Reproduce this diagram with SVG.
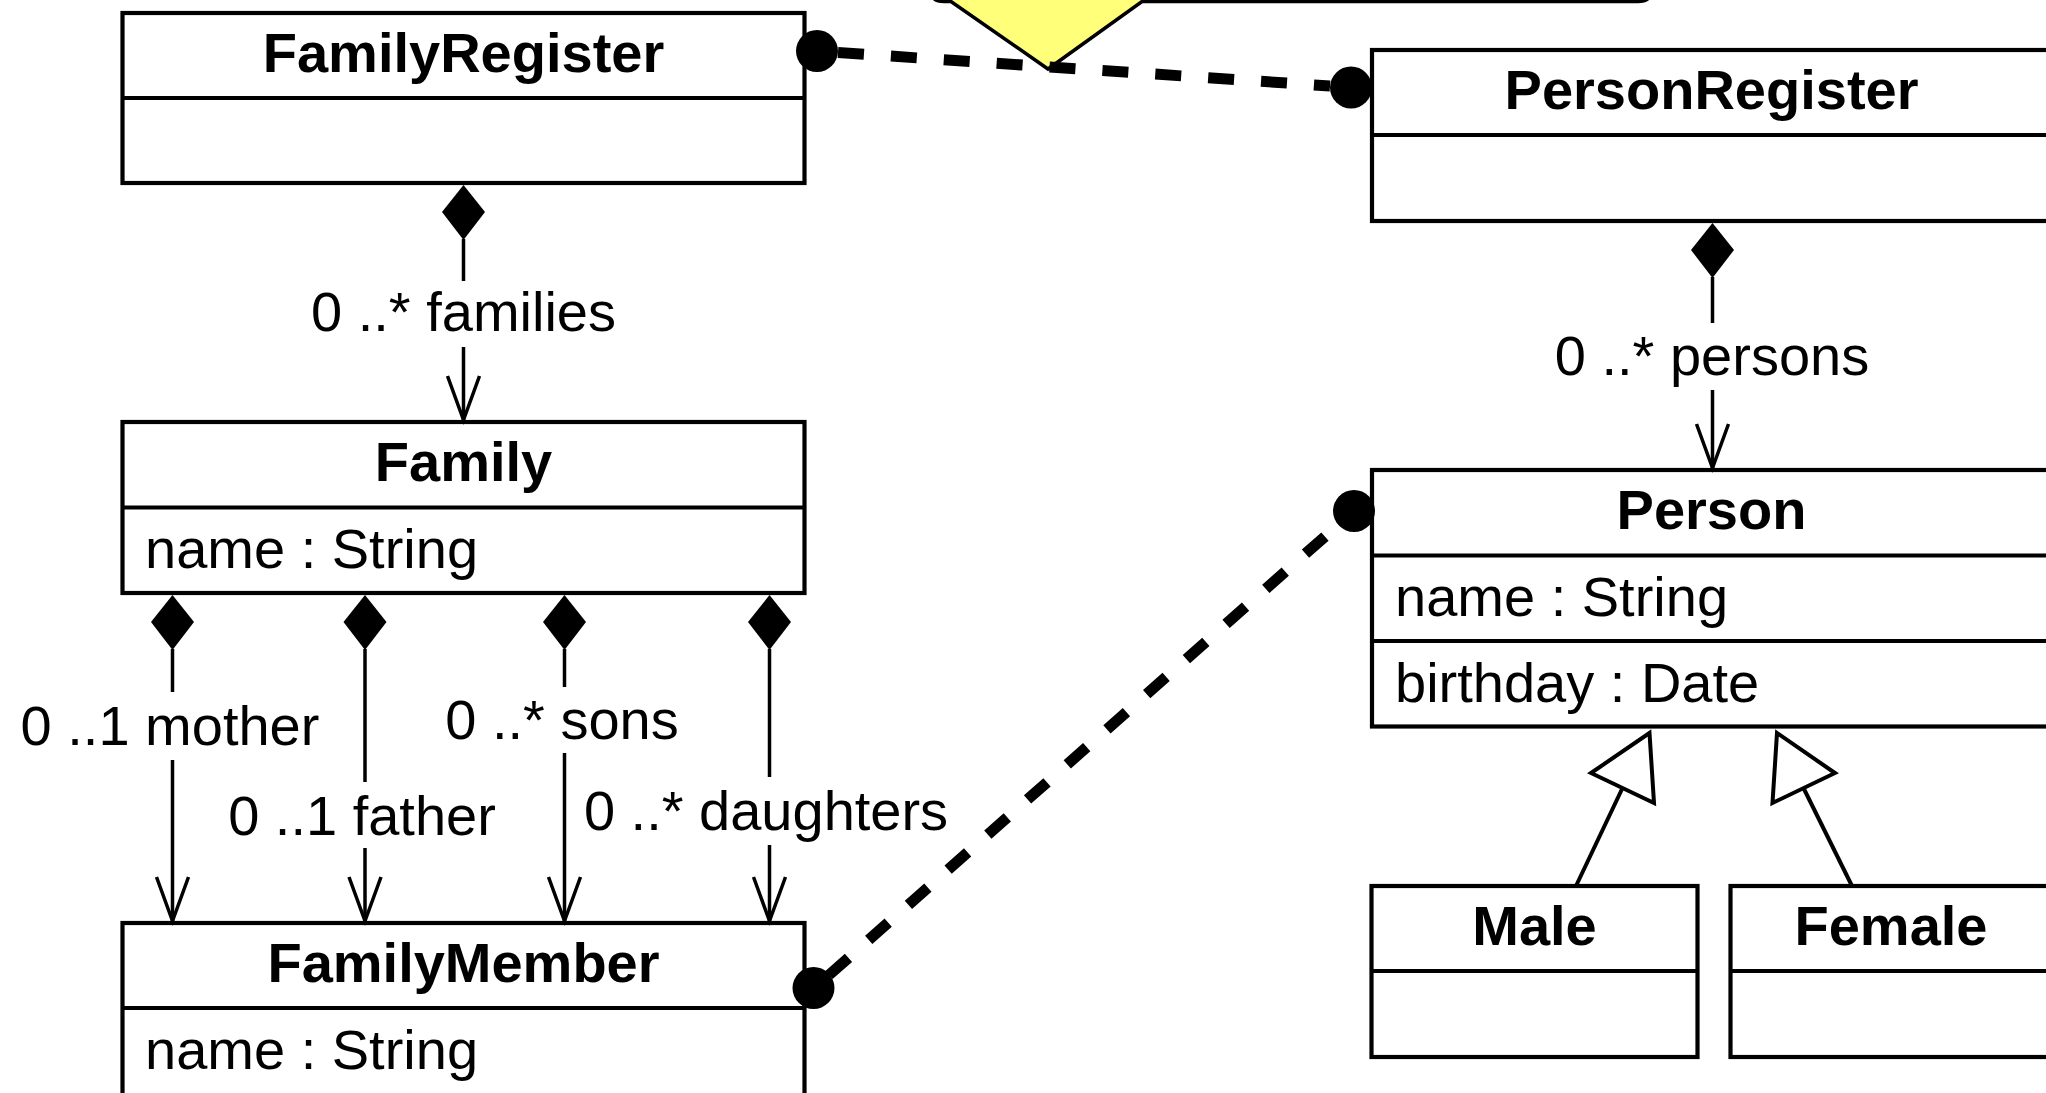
<svg xmlns="http://www.w3.org/2000/svg" xmlns:xlink="http://www.w3.org/1999/xlink" width="2046" height="1093" viewBox="0 0 2046 1093">
<style>
.box{fill:#fff;stroke:#000;stroke-width:4.2}
.div{stroke:#000;stroke-width:4.2}
.title{font-family:"Liberation Sans",Arial,sans-serif;font-weight:bold;font-size:56px;text-anchor:middle;fill:#000}
.attr{font-family:"Liberation Sans",Arial,sans-serif;font-size:56px;fill:#000}
.lbl{font-family:"Liberation Sans",Arial,sans-serif;font-size:56px;text-anchor:middle;fill:#000}
.assoc{stroke:#000;stroke-width:3.5;fill:none}
.dash{stroke:#000;stroke-width:11;stroke-dasharray:26 27;fill:none}
.ball{fill:#000}
.gen{stroke:#000;stroke-width:4;fill:#fff;stroke-linejoin:miter}
.note{fill:#FFFF7A;stroke:#000;stroke-width:3.5}
</style>
<defs>
<path id="diamond" d="M0 0 L21.5 27 L0 55 L-21.5 27 Z" fill="#000"/>
<path id="arrowV" d="M-16 -44 L0 0 L16 -44" fill="none" stroke="#000" stroke-width="3.5"/>
</defs>
<rect width="2046" height="1093" fill="#fff"/>

<g id="note">
<path class="note" d="M930 -80 L930 -12 Q930 1.5 944 1.5 L951 1.5 L1048 69 L1142 1.5 L1638 1.5 Q1652 1.5 1652 -12 L1652 -80 Z"/>
</g>

<g id="FamilyRegister">
<rect class="box" x="122.5" y="13" width="682" height="170"/>
<line class="div" x1="122.5" y1="98" x2="804.5" y2="98"/>
<text class="title" x="463.5" y="72">FamilyRegister</text>
</g>

<g id="Family">
<rect class="box" x="122.5" y="422" width="682" height="171"/>
<line class="div" x1="122.5" y1="507.5" x2="804.5" y2="507.5"/>
<text class="title" x="463.5" y="481">Family</text>
<text class="attr" x="145" y="567.5">name : String</text>
</g>

<g id="FamilyMember">
<rect class="box" x="122.5" y="923" width="682" height="180"/>
<line class="div" x1="122.5" y1="1008" x2="804.5" y2="1008"/>
<text class="title" x="463.5" y="982">FamilyMember</text>
<text class="attr" x="145" y="1069">name : String</text>
</g>

<g id="PersonRegister">
<rect class="box" x="1372" y="50" width="682" height="171"/>
<line class="div" x1="1372" y1="135" x2="2054" y2="135"/>
<text class="title" x="1711.5" y="109">PersonRegister</text>
</g>

<g id="Person">
<rect class="box" x="1372" y="470" width="682" height="256.5"/>
<line class="div" x1="1372" y1="555.5" x2="2054" y2="555.5"/>
<line class="div" x1="1372" y1="641" x2="2054" y2="641"/>
<text class="title" x="1711.5" y="529">Person</text>
<text class="attr" x="1395" y="616">name : String</text>
<text class="attr" x="1395" y="701.5">birthday : Date</text>
</g>

<g id="Male">
<rect class="box" x="1371.5" y="886" width="326" height="171"/>
<line class="div" x1="1371.5" y1="971" x2="1697.5" y2="971"/>
<text class="title" x="1534.5" y="945">Male</text>
</g>

<g id="Female">
<rect class="box" x="1730.5" y="886" width="324" height="171"/>
<line class="div" x1="1730.5" y1="971" x2="2054.5" y2="971"/>
<text class="title" x="1891" y="945">Female</text>
</g>

<g id="connectors">
<!-- FamilyRegister -> Family -->
<use xlink:href="#diamond" href="#diamond" x="463.5" y="185"/>
<line class="assoc" x1="463.5" y1="239" x2="463.5" y2="281"/>
<line class="assoc" x1="463.5" y1="347" x2="463.5" y2="420"/>
<use xlink:href="#arrowV" href="#arrowV" x="463.5" y="420"/>
<text class="lbl" x="463.5" y="331">0 ..* families</text>

<!-- PersonRegister -> Person -->
<use xlink:href="#diamond" href="#diamond" x="1712.5" y="223"/>
<line class="assoc" x1="1712.5" y1="277" x2="1712.5" y2="323"/>
<line class="assoc" x1="1712.5" y1="390" x2="1712.5" y2="468"/>
<use xlink:href="#arrowV" href="#arrowV" x="1712.5" y="468"/>
<text class="lbl" x="1712" y="375">0 ..* persons</text>

<!-- Family -> FamilyMember: mother -->
<use xlink:href="#diamond" href="#diamond" x="172.5" y="595"/>
<line class="assoc" x1="172.5" y1="649" x2="172.5" y2="692"/>
<line class="assoc" x1="172.5" y1="760" x2="172.5" y2="921"/>
<use xlink:href="#arrowV" href="#arrowV" x="172.5" y="921"/>
<text class="lbl" x="170" y="745">0 ..1 mother</text>

<!-- father -->
<use xlink:href="#diamond" href="#diamond" x="365" y="595"/>
<line class="assoc" x1="365" y1="649" x2="365" y2="782"/>
<line class="assoc" x1="365" y1="848" x2="365" y2="921"/>
<use xlink:href="#arrowV" href="#arrowV" x="365" y="921"/>
<text class="lbl" x="362" y="835">0 ..1 father</text>

<!-- sons -->
<use xlink:href="#diamond" href="#diamond" x="564.5" y="595"/>
<line class="assoc" x1="564.5" y1="649" x2="564.5" y2="687"/>
<line class="assoc" x1="564.5" y1="753" x2="564.5" y2="921"/>
<use xlink:href="#arrowV" href="#arrowV" x="564.5" y="921"/>
<text class="lbl" x="562" y="739">0 ..* sons</text>

<!-- daughters -->
<use xlink:href="#diamond" href="#diamond" x="769.5" y="595"/>
<line class="assoc" x1="769.5" y1="649" x2="769.5" y2="777"/>
<line class="assoc" x1="769.5" y1="845" x2="769.5" y2="921"/>
<use xlink:href="#arrowV" href="#arrowV" x="769.5" y="921"/>
<text class="lbl" x="766" y="830">0 ..* daughters</text>

<!-- generalizations -->
<line class="assoc" style="stroke-width:4" x1="1576" y1="886" x2="1622.5" y2="788"/>
<polygon class="gen" points="1649.5,733 1591,773 1654,803"/>
<line class="assoc" style="stroke-width:4" x1="1852" y1="886" x2="1803.5" y2="788"/>
<polygon class="gen" points="1777,733 1772.5,803 1835,773"/>

<!-- dashed links -->
<line class="dash" x1="838" y1="52.5" x2="1330" y2="86"/>
<circle class="ball" cx="817" cy="51" r="21"/>
<circle class="ball" cx="1351" cy="87.5" r="21"/>
<line class="dash" x1="829" y1="975" x2="1338" y2="525"/>
<circle class="ball" cx="813.5" cy="988" r="21"/>
<circle class="ball" cx="1354" cy="511" r="21"/>
</g>
</svg>
